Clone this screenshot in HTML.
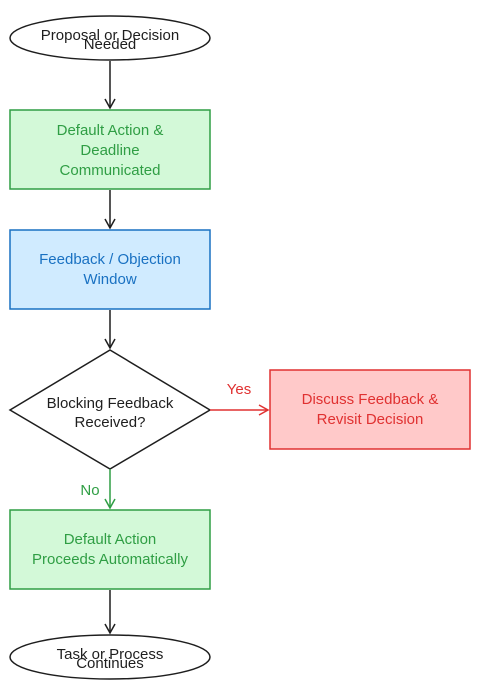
<!DOCTYPE html>
<html><head><meta charset="utf-8"><style>html,body{margin:0;padding:0;background:#fff}svg{display:block}</style></head>
<body>
<svg width="480" height="700" viewBox="0 0 480 700" xmlns="http://www.w3.org/2000/svg" font-family="Liberation Sans, sans-serif" font-size="15" text-anchor="middle">
<defs>
<marker id="ak" markerWidth="12" markerHeight="12" refX="10" refY="6" orient="auto" markerUnits="userSpaceOnUse"><path d="M1,1 L10,6 L1,11" fill="none" stroke="#1e1e1e" stroke-width="1.5"/></marker>
<marker id="ar" markerWidth="12" markerHeight="12" refX="10" refY="6" orient="auto" markerUnits="userSpaceOnUse"><path d="M1,1 L10,6 L1,11" fill="none" stroke="#e03131" stroke-width="1.5"/></marker>
<marker id="ag" markerWidth="12" markerHeight="12" refX="10" refY="6" orient="auto" markerUnits="userSpaceOnUse"><path d="M1,1 L10,6 L1,11" fill="none" stroke="#2f9e44" stroke-width="1.5"/></marker>
</defs>
<!-- top ellipse -->
<ellipse cx="110" cy="38" rx="100" ry="22" fill="#fff" stroke="#1e1e1e" stroke-width="1.5"/>
<text x="110" y="40" fill="#1e1e1e">Proposal or Decision</text>
<text x="110" y="49" fill="#1e1e1e">Needed</text>
<line x1="110" y1="61" x2="110" y2="108" stroke="#1e1e1e" stroke-width="1.5" marker-end="url(#ak)"/>
<!-- green box 1 -->
<rect x="10" y="110" width="200" height="79" fill="#d3f9d8" stroke="#2f9e44" stroke-width="1.5"/>
<text x="110" y="135" fill="#2f9e44">Default Action &amp;</text>
<text x="110" y="155" fill="#2f9e44">Deadline</text>
<text x="110" y="175" fill="#2f9e44">Communicated</text>
<line x1="110" y1="190" x2="110" y2="228" stroke="#1e1e1e" stroke-width="1.5" marker-end="url(#ak)"/>
<!-- blue box -->
<rect x="10" y="230" width="200" height="79" fill="#d0ebff" stroke="#1971c2" stroke-width="1.5"/>
<text x="110" y="264" fill="#1971c2">Feedback / Objection</text>
<text x="110" y="284" fill="#1971c2">Window</text>
<line x1="110" y1="310" x2="110" y2="348" stroke="#1e1e1e" stroke-width="1.5" marker-end="url(#ak)"/>
<!-- diamond -->
<polygon points="110,350 210,410 110,469 10,410" fill="#fff" stroke="#1e1e1e" stroke-width="1.5"/>
<text x="110" y="408" fill="#1e1e1e">Blocking Feedback</text>
<text x="110" y="427" fill="#1e1e1e">Received?</text>
<!-- yes -->
<line x1="210" y1="410" x2="268" y2="410" stroke="#e03131" stroke-width="1.5" marker-end="url(#ar)"/>
<text x="239" y="394" fill="#e03131">Yes</text>
<rect x="270" y="370" width="200" height="79" fill="#ffc9c9" stroke="#e03131" stroke-width="1.5"/>
<text x="370" y="404" fill="#e03131">Discuss Feedback &amp;</text>
<text x="370" y="424" fill="#e03131">Revisit Decision</text>
<!-- no -->
<line x1="110" y1="469" x2="110" y2="508" stroke="#2f9e44" stroke-width="1.5" marker-end="url(#ag)"/>
<text x="90" y="495" fill="#2f9e44">No</text>
<rect x="10" y="510" width="200" height="79" fill="#d3f9d8" stroke="#2f9e44" stroke-width="1.5"/>
<text x="110" y="544" fill="#2f9e44">Default Action</text>
<text x="110" y="564" fill="#2f9e44">Proceeds Automatically</text>
<line x1="110" y1="590" x2="110" y2="633" stroke="#1e1e1e" stroke-width="1.5" marker-end="url(#ak)"/>
<!-- bottom ellipse -->
<ellipse cx="110" cy="657" rx="100" ry="22" fill="#fff" stroke="#1e1e1e" stroke-width="1.5"/>
<text x="110" y="659" fill="#1e1e1e">Task or Process</text>
<text x="110" y="668" fill="#1e1e1e">Continues</text>
</svg>
</body></html>
